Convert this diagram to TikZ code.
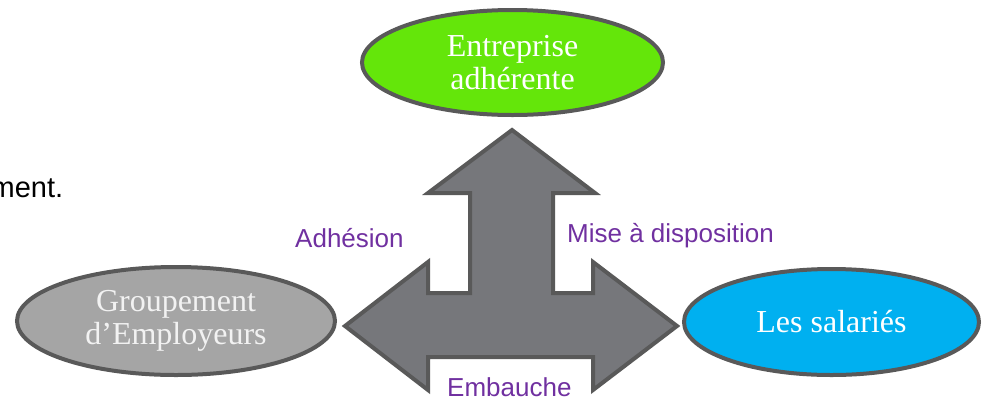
\documentclass[tikz,border=0pt]{standalone}
\usepackage{fontspec}
\setmainfont{Liberation Serif}
\newfontfamily\labelfont{Liberation Sans}
\usetikzlibrary{shapes.geometric}
\definecolor{edgegray}{HTML}{595959}
\definecolor{arrowgray}{HTML}{76777B}
\definecolor{greenfill}{HTML}{64E60A}
\definecolor{bluefill}{HTML}{00B0F0}
\definecolor{grayfill}{HTML}{A5A5A5}
\definecolor{lightwhite}{HTML}{F2F2F2}
\definecolor{labelpurple}{HTML}{7030A0}
\tikzset{
  party/.style={ellipse, draw=edgegray, line width=4pt, inner sep=0pt, align=center,
    font=\fontsize{32}{33}\selectfont, text=white},
  flowlabel/.style={font=\labelfont\fontsize{26}{28}\selectfont, text=labelpurple, inner sep=0pt, text depth=0pt},
  bigarrow/.style={draw=edgegray, fill=arrowgray, line width=4pt, line join=miter}
}
\begin{document}
\begin{tikzpicture}[x=1pt,y=-1pt]
\useasboundingbox (0,0) rectangle (983,400);
% cut-off text at left
\node[anchor=base west, inner sep=0pt, font=\labelfont\fontsize{29}{30}\selectfont] (cut) at (-9.5,197) {ment.};
% three-way arrow
\draw[bigarrow] (512,130) -- (595,193) -- (553,193) -- (553,293) -- (593,293) -- (593,262)
  -- (677,326) -- (593,390) -- (593,357) -- (428,357) -- (428,390) -- (345,326)
  -- (428,262) -- (428,293) -- (470,293) -- (470,193) -- (428,193) -- cycle;
% parties
\node[party, fill=greenfill, minimum width=301pt, minimum height=105pt] (ent) at (512.5,62.5) {Entreprise\\adhérente};
\node[party, fill=grayfill, text=lightwhite, minimum width=318pt, minimum height=108pt] (ge) at (176,321) {Groupement\\d’Employeurs};
\node[party, fill=bluefill, minimum width=295pt, minimum height=106pt] (sal) at (831.5,322) {Les salariés};
% labels
\node[flowlabel, anchor=base west] (adh) at (295,247) {Adhésion};
\node[flowlabel, anchor=base west] (mad) at (567,242) {Mise à disposition};
\node[flowlabel, anchor=base west] (emb) at (447,396) {Embauche};
\end{tikzpicture}
\end{document}
